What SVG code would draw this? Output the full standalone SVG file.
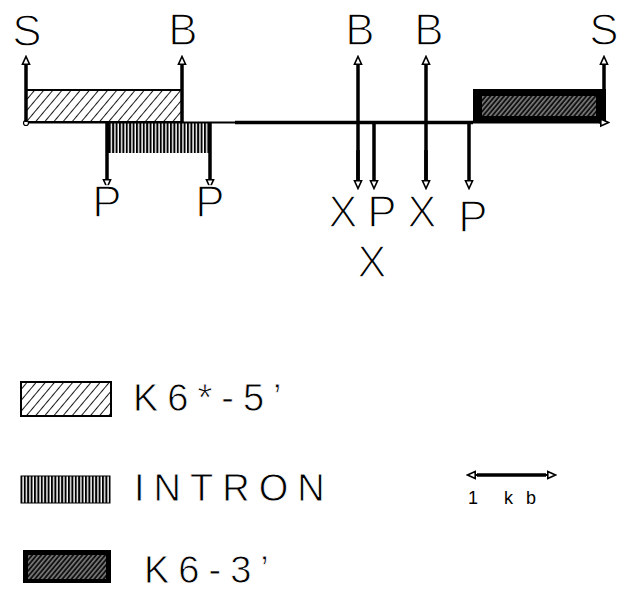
<svg xmlns="http://www.w3.org/2000/svg" width="625" height="591" viewBox="0 0 625 591">
<style>
.lbl{font-family:"Liberation Sans",Arial,sans-serif;font-size:44px;fill:#000;text-anchor:middle;stroke:#fff;stroke-width:1.4}
.leg{font-family:"Liberation Sans",Arial,sans-serif;font-size:38px;fill:#000;letter-spacing:9px;stroke:#fff;stroke-width:0.8}
.stem{stroke:#000;stroke-width:3.5;fill:none}
.box{stroke:#000;stroke-width:2}
</style>
<defs>
<marker id="ah" viewBox="0 -5 10 10" refX="0" refY="0" markerWidth="10" markerHeight="10" markerUnits="userSpaceOnUse" orient="auto">
<path d="M0.8,-3.5 L8.5,0 L0.8,3.5 Z" fill="#fff" stroke="#000" stroke-width="1.6"/>
</marker>
<pattern id="diag" width="7" height="7" patternUnits="userSpaceOnUse" patternTransform="rotate(40)">
<rect width="7" height="7" fill="#fff"/>
<line x1="0" y1="0" x2="0" y2="7" stroke="#000" stroke-width="1.8"/>
</pattern>
<pattern id="vert" width="3.4" height="10" patternUnits="userSpaceOnUse">
<rect width="3.4" height="10" fill="#fff"/>
<line x1="1" y1="0" x2="1" y2="10" stroke="#000" stroke-width="2"/>
</pattern>
<pattern id="dark" width="3.5" height="3.5" patternUnits="userSpaceOnUse" patternTransform="rotate(40)">
<rect width="3.5" height="3.5" fill="#111"/>
<line x1="1.7" y1="0" x2="1.7" y2="3.5" stroke="#bbb" stroke-width="1"/>
</pattern>
</defs>
<rect width="625" height="591" fill="#fff"/>

<g id="map">
<g id="exon5">
<rect class="box" x="26" y="90" width="156" height="32" fill="url(#diag)"/>
</g>
<g id="intron">
<rect x="108" y="123" width="102" height="30" fill="url(#vert)"/>
<rect x="106" y="123" width="4" height="30" fill="#000"/>
</g>
<g id="exon3">
<rect x="473" y="89" width="133" height="34" fill="#000"/>
<rect x="482" y="96" width="114" height="20" fill="url(#dark)"/>
</g>
</g>

<g id="connectors">
<line x1="25" y1="122.5" x2="235" y2="122.5" stroke="#000" stroke-width="2"/>
<line x1="235" y1="122.5" x2="473" y2="122.5" stroke="#000" stroke-width="3.5"/>
<line x1="473" y1="122.5" x2="600" y2="122.5" stroke="#000" stroke-width="2"/>
<line x1="599" y1="122.5" x2="600" y2="122.5" stroke="#000" stroke-width="2" marker-end="url(#ah)"/>
<circle cx="26" cy="123" r="2.5" fill="#fff" stroke="#000" stroke-width="1.2"/>
<line class="stem" x1="26" y1="122" x2="26" y2="65" marker-end="url(#ah)"/>
<line class="stem" x1="182" y1="122" x2="182" y2="65" marker-end="url(#ah)"/>
<line class="stem" x1="358" y1="180" x2="358" y2="65" marker-end="url(#ah)"/>
<line class="stem" x1="426" y1="180" x2="426" y2="65" marker-end="url(#ah)"/>
<line class="stem" x1="604" y1="90" x2="604" y2="65" marker-end="url(#ah)"/>
<line class="stem" x1="358" y1="150" x2="358" y2="180" marker-end="url(#ah)"/>
<line class="stem" x1="426" y1="150" x2="426" y2="180" marker-end="url(#ah)"/>
<line class="stem" x1="107" y1="123" x2="107" y2="179" marker-end="url(#ah)"/>
<line class="stem" x1="210" y1="123" x2="210" y2="179" marker-end="url(#ah)"/>
<line class="stem" x1="374" y1="123" x2="374" y2="180" marker-end="url(#ah)"/>
<line class="stem" x1="469" y1="123" x2="469" y2="180" marker-end="url(#ah)"/>
</g>

<g id="labels">
<text class="lbl" x="27" y="46">S</text>
<text class="lbl" x="183" y="45">B</text>
<text class="lbl" x="360" y="45">B</text>
<text class="lbl" x="429" y="45">B</text>
<text class="lbl" x="604" y="45">S</text>
<text class="lbl" x="107" y="217">P</text>
<text class="lbl" x="210" y="217">P</text>
<text class="lbl" x="343" y="227">X</text>
<text class="lbl" x="382" y="227">P</text>
<text class="lbl" x="422" y="227">X</text>
<text class="lbl" x="473" y="232">P</text>
<text class="lbl" x="372" y="277">X</text>
</g>

<g id="legend">
<g id="leg5">
<rect class="box" x="21" y="382" width="90" height="34" fill="url(#diag)"/>
<text class="leg" x="133" y="411">K6*-5’</text>
</g>
<g id="legIntron">
<rect x="21" y="476" width="89" height="27" fill="url(#vert)" stroke="#000" stroke-width="1"/>
<text class="leg" x="134" y="501" letter-spacing="11">INTRON</text>
</g>
<g id="leg3">
<rect x="23" y="550" width="88" height="33" fill="#000"/>
<rect x="28" y="555" width="78" height="24" fill="url(#dark)"/>
<text class="leg" x="144" y="583">K6-3’</text>
</g>
<g id="scale">
<line class="stem" x1="477" y1="475" x2="546" y2="475" stroke-width="3"/>
<line x1="477" y1="475" x2="476" y2="475" stroke="#000" stroke-width="2" marker-end="url(#ah)"/>
<line x1="546" y1="475" x2="547" y2="475" stroke="#000" stroke-width="2" marker-end="url(#ah)"/>
<text x="468" y="504" font-family="Liberation Sans, Arial, sans-serif" font-size="18">1</text>
<text x="504" y="504" font-family="Liberation Sans, Arial, sans-serif" font-size="18">k</text>
<text x="526" y="504" font-family="Liberation Sans, Arial, sans-serif" font-size="18">b</text>
</g>
</g>
</svg>
